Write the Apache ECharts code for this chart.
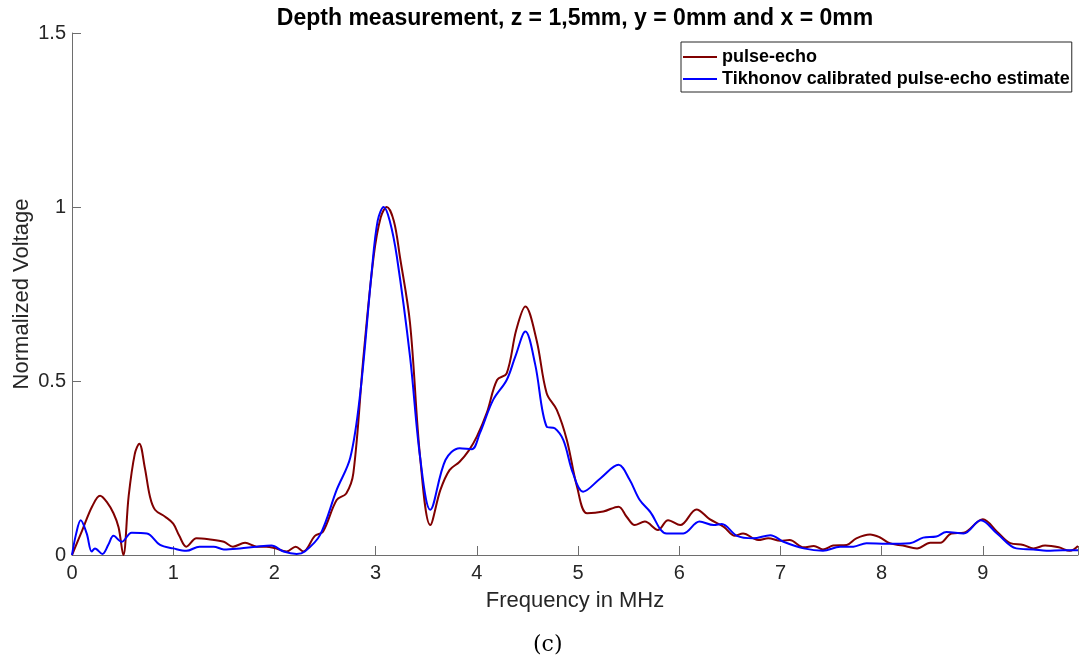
<!DOCTYPE html>
<html>
<head>
<meta charset="utf-8">
<script src="https://cdn.jsdelivr.net/npm/echarts@6/dist/echarts.min.js"></script>
<style>html,body{margin:0;padding:0;background:#fff;}#c{width:1079px;height:657px;}</style>
</head>
<body>
<div id="c"></div>
<script>
var titleText = 'Depth measurement, z = 1,5mm, y = 0mm and x = 0mm';
var seriesNames = ['pulse-echo', 'Tikhonov calibrated pulse-echo estimate'];
var xTickLabels = ['0','1','2','3','4','5','6','7','8','9'];
var yTickLabels = ['0','0.5','1','1.5'];

var peFreq = [0, 0.1, 0.2, 0.277, 0.35, 0.41, 0.46, 0.507, 0.56, 0.62, 0.665, 0.72, 0.77, 0.82, 0.92, 1.0, 1.06, 1.13, 1.23, 1.35, 1.5, 1.59, 1.71, 1.825, 1.92, 2.0, 2.12, 2.21, 2.285, 2.40, 2.48, 2.615, 2.71, 2.78, 2.88, 2.98, 3.05, 3.11, 3.18, 3.24, 3.34, 3.44, 3.54, 3.64, 3.73, 3.83, 3.92, 4.0, 4.1, 4.2, 4.295, 4.39, 4.48, 4.59, 4.69, 4.79, 4.89, 4.99, 5.09, 5.25, 5.40, 5.48, 5.56, 5.66, 5.79, 5.89, 6.01, 6.17, 6.30, 6.44, 6.55, 6.63, 6.78, 6.88, 7.0, 7.09, 7.23, 7.33, 7.42, 7.52, 7.655, 7.75, 7.885, 7.98, 8.08, 8.21, 8.35, 8.48, 8.58, 8.69, 8.81, 9.0, 9.14, 9.27, 9.40, 9.50, 9.615, 9.75, 9.86, 9.94];
var peVal = [0, 0.07, 0.14, 0.17, 0.15, 0.12, 0.08, 0, 0.17, 0.29, 0.32, 0.25, 0.168, 0.13, 0.11, 0.09, 0.055, 0.024, 0.048, 0.045, 0.038, 0.024, 0.035, 0.024, 0.024, 0.02, 0.01, 0.024, 0.01, 0.055, 0.067, 0.158, 0.177, 0.235, 0.57, 0.857, 0.97, 1.0, 0.96, 0.857, 0.666, 0.28, 0.086, 0.187, 0.244, 0.268, 0.30, 0.34, 0.41, 0.503, 0.522, 0.647, 0.714, 0.618, 0.465, 0.417, 0.33, 0.196, 0.12, 0.125, 0.139, 0.11, 0.086, 0.096, 0.072, 0.1, 0.086, 0.131, 0.103, 0.081, 0.055, 0.062, 0.043, 0.048, 0.041, 0.043, 0.022, 0.026, 0.016, 0.027, 0.029, 0.048, 0.059, 0.051, 0.034, 0.027, 0.019, 0.035, 0.035, 0.062, 0.064, 0.103, 0.067, 0.034, 0.029, 0.019, 0.027, 0.022, 0.012, 0.026];

var tkFreq = [0, 0.04, 0.086, 0.145, 0.195, 0.227, 0.30, 0.36, 0.41, 0.49, 0.59, 0.74, 0.87, 1.0, 1.13, 1.26, 1.40, 1.5, 1.66, 1.825, 1.97, 2.09, 2.22, 2.30, 2.45, 2.615, 2.75, 2.85, 2.96, 3.02, 3.08, 3.14, 3.21, 3.34, 3.44, 3.54, 3.69, 3.83, 3.95, 4.03, 4.16, 4.295, 4.38, 4.48, 4.575, 4.69, 4.77, 4.855, 4.95, 5.05, 5.22, 5.40, 5.51, 5.61, 5.71, 5.875, 6.04, 6.2, 6.34, 6.42, 6.57, 6.73, 6.9, 7.03, 7.23, 7.42, 7.59, 7.72, 7.85, 8.05, 8.28, 8.41, 8.54, 8.64, 8.81, 8.98, 9.14, 9.33, 9.5, 9.63, 9.79, 9.94];
var tkVal = [0, 0.06, 0.1, 0.062, 0.01, 0.019, 0.003, 0.03, 0.055, 0.038, 0.064, 0.062, 0.029, 0.019, 0.012, 0.024, 0.024, 0.016, 0.019, 0.024, 0.027, 0.01, 0.003, 0.01, 0.057, 0.187, 0.28, 0.47, 0.81, 0.96, 1.0, 0.96, 0.857, 0.57, 0.28, 0.13, 0.273, 0.307, 0.304, 0.35, 0.445, 0.503, 0.57, 0.642, 0.55, 0.369, 0.364, 0.33, 0.235, 0.182, 0.22, 0.259, 0.216, 0.158, 0.125, 0.062, 0.062, 0.096, 0.086, 0.089, 0.055, 0.048, 0.057, 0.038, 0.019, 0.012, 0.024, 0.024, 0.034, 0.032, 0.034, 0.05, 0.053, 0.066, 0.062, 0.1, 0.062, 0.019, 0.016, 0.012, 0.014, 0.014];

function pairs(xs, ys){ return xs.map(function(x,i){ return [x, ys[i]]; }); }

var chart = echarts.init(document.getElementById('c'), null, {renderer:'canvas'});
var font = 'Liberation Sans, Arial, Helvetica, sans-serif';
var axisColor = '#6e6e6e';
chart.setOption({
  animation: false,
  backgroundColor: '#fff',
  title: {
    text: titleText,
    left: 575, top: 7, textAlign: 'center', padding: 0,
    textStyle: {fontFamily: font, fontSize: 23, fontWeight: 'bold', color: '#000'}
  },
  graphic: [{
    type: 'text', left: 533, top: 634,
    style: {text: '(c)', font: '22px "DejaVu Serif", "Liberation Serif", serif', fill: '#000'}
  }],
  legend: {
    left: 681, top: 42, orient: 'vertical',
    backgroundColor: '#fff', borderColor: '#262626', borderWidth: 1, borderRadius: 0,
    padding: [6, 2, 4, 2], itemGap: 4, itemWidth: 34, itemHeight: 2, icon: 'rect',
    textStyle: {fontFamily: font, fontSize: 18, fontWeight: 'bold', color: '#000'},
    data: seriesNames
  },
  grid: {left: 72, right: 1, top: 33, bottom: 102, containLabel: false, outerBoundsMode: 'none'},
  xAxis: {
    type: 'value', min: 0, max: 9.94, interval: 1,
    name: 'Frequency in MHz', nameLocation: 'middle', nameGap: 35, nameMoveOverlap: false,
    nameTextStyle: {fontFamily: font, fontSize: 22, color: '#262626'},
    axisLine: {show: true, lineStyle: {color: axisColor, width: 1}},
    axisTick: {show: true, inside: true, length: 9, lineStyle: {color: axisColor}},
    axisLabel: {fontFamily: font, fontSize: 20, color: '#262626', margin: 8,
      formatter: function(v){ var i = Math.round(v); return Math.abs(v - i) < 1e-6 && i < xTickLabels.length ? xTickLabels[i] : ''; }},
    splitLine: {show: false}
  },
  yAxis: {
    type: 'value', min: 0, max: 1.5, interval: 0.5,
    name: 'Normalized Voltage', nameLocation: 'middle', nameGap: 39, nameMoveOverlap: false,
    nameTextStyle: {fontFamily: font, fontSize: 22, color: '#262626'},
    axisLine: {show: true, lineStyle: {color: axisColor, width: 1}},
    axisTick: {show: true, inside: true, length: 9, lineStyle: {color: axisColor}},
    axisLabel: {fontFamily: font, fontSize: 20, color: '#262626', margin: 6,
      formatter: function(v){ var i = Math.round(v / 0.5); return yTickLabels[i] !== undefined ? yTickLabels[i] : ''; }},
    splitLine: {show: false}
  },
  series: [
    {name: seriesNames[0], type: 'line', data: pairs(peFreq, peVal), smooth: 0.35, showSymbol: false,
     lineStyle: {color: '#800000', width: 2}, itemStyle: {color: '#800000'}, z: 2},
    {name: seriesNames[1], type: 'line', data: pairs(tkFreq, tkVal), smooth: 0.35, showSymbol: false,
     lineStyle: {color: '#0000ff', width: 2}, itemStyle: {color: '#0000ff'}, z: 3}
  ]
});
</script>
</body>
</html>
